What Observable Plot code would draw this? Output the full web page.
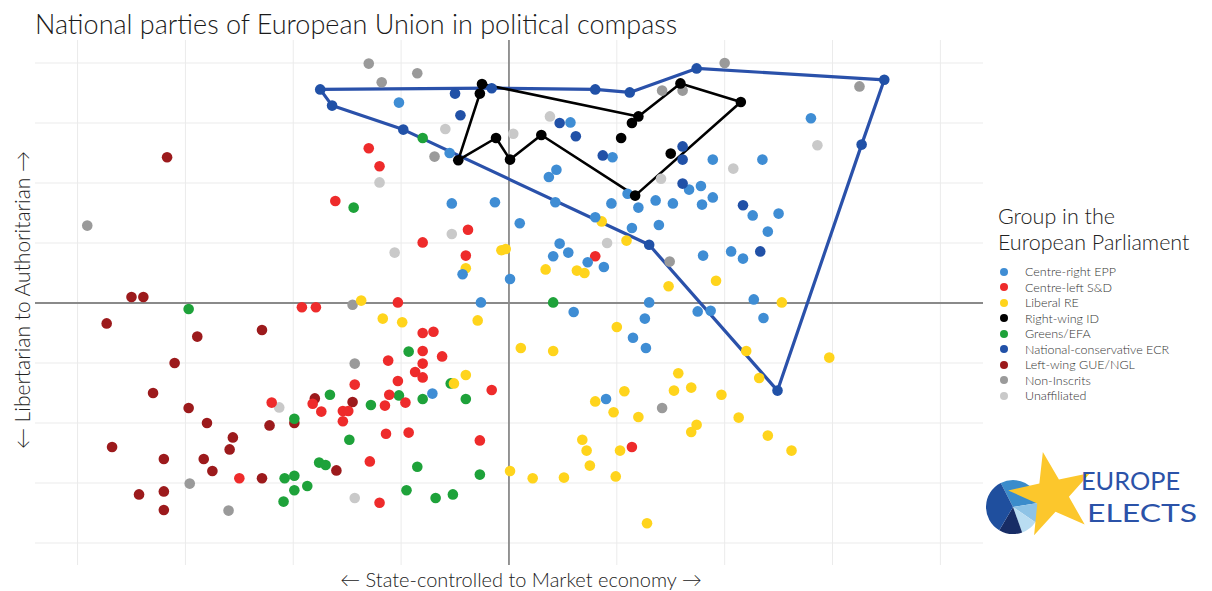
<!DOCTYPE html>
<html>
<head>
<meta charset="utf-8">
<script src="https://cdn.jsdelivr.net/npm/d3@7"></script>
<script src="https://cdn.jsdelivr.net/npm/@observablehq/plot@0.6"></script>
<style>
  html, body { margin: 0; padding: 0; background: #fff; }
  #wrap { position: relative; width: 1212px; height: 591px; overflow: hidden; font-family: Lato, "DejaVu Sans", sans-serif; font-weight: 300; color: #222; }
  #chart { position: absolute; left: 0; top: 0; }
  .title { position: absolute; left: 35px; top: 7px; font-size: 27px; white-space: nowrap; color: #1a1a1a; }
  .xlab { position: absolute; left: 521px; top: 567px; transform: translateX(-50%); font-size: 20px; white-space: nowrap; }
  .ylab { position: absolute; left: 21px; top: 300px; transform: translate(-50%, -50%) rotate(-90deg); font-size: 21px; white-space: nowrap; }
  .legtitle { position: absolute; left: 998px; top: 203px; font-size: 21.5px; line-height: 26px; white-space: nowrap; }
  .legitems { position: absolute; left: 1000px; top: 264px; }
  .legitem { height: 15.5px; line-height: 15.5px; font-size: 12.5px; white-space: nowrap; color: #333; display: flex; align-items: center; }
  .legitem span.sw { display: inline-block; width: 8px; height: 8px; border-radius: 50%; margin-right: 17px; }
  .logo { position: absolute; left: 980px; top: 440px; }
  .logo text { font-family: Lato, sans-serif; font-weight: 400; fill: #2b52a8; }
</style>
</head>
<body>
<div id="wrap">
  <div id="chart"></div>
  <div class="title">National parties of European Union in political compass</div>
  <div class="ylab">← Libertarian to Authoritarian →</div>
  <div class="xlab">← State-controlled to Market economy →</div>
  <div class="legtitle">Group in the<br>European Parliament</div>
  <div class="legitems" id="legend"></div>
  <svg class="logo" width="232" height="100" viewBox="0 0 232 100">
    <g id="pie" transform="translate(33,67)"></g>
    <polygon id="star" fill="#fcc72c"></polygon>
    <text x="101" y="50" font-size="25" textLength="99" lengthAdjust="spacingAndGlyphs">EUROPE</text>
    <text x="107" y="82" font-size="25" textLength="110" lengthAdjust="spacingAndGlyphs">ELECTS</text>
  </svg>
</div>
<script>
// ---- Data: [economic (state→market), social (libertarian→authoritarian)] ----
const groupNames = ["Centre-right EPP", "Centre-left S&D", "Liberal RE", "Right-wing ID", "Greens/EFA",
  "National-conservative ECR", "Left-wing GUE/NGL", "Non-Inscrits", "Unaffiliated"];
const legendLabels = ["Centre-right EPP", "Centre-left S&D", "Liberal RE", "Right-wing ID", "Greens/EFA",
  "National-conservative ECR", "Left-wing GUE/NGL", "Non-Inscrits", "Unaffiliated"];
const groupColors = ["#3f8dd4", "#ee2b2b", "#ffd41c", "#000000", "#1ea23a", "#2151a7", "#9c1a1c", "#9a9a9a", "#c9c9c9"];

const epp = [
  [-1.02,3.34],[-0.55,2.50],[-0.53,1.66],[-0.13,1.68],[-0.43,0.48],[0.01,0.40],[-0.26,0.01],
  [0.57,3.01],[0.96,2.43],[1.89,2.39],[0.44,2.22],[0.37,2.10],[1.67,1.89],[1.78,1.95],[1.10,1.82],
  [0.43,1.68],[0.95,1.66],[1.20,1.59],[1.36,1.71],[1.52,1.66],[1.79,1.64],[1.89,1.76],[2.26,1.46],
  [0.10,1.33],[0.80,1.43],[1.14,1.25],[1.39,1.30],[0.47,0.99],[0.55,0.84],[0.41,0.78],[0.73,0.68],
  [0.88,0.60],[1.80,0.79],[2.06,0.86],[2.17,0.74],[1.30,0.01],[2.27,0.06],[2.80,3.08],[2.35,2.39],
  [2.50,1.49],[2.40,1.19],[0.60,-0.15],[1.75,-0.14],[1.87,-0.13],[1.26,-0.26],[1.15,-0.58],[1.27,-0.75],
  [0.90,-1.60],[2.36,-0.25],[-0.71,-1.51]
];
const sd = [
  [-1.30,2.58],[-1.20,2.28],[-1.61,1.70],[-0.38,1.22],[-0.80,1.01],[-0.40,0.79],[-1.03,0.01],[-1.92,-0.07],[-1.79,-0.07],[0.80,0.78],
  [-2.20,-1.66],[-2.50,-2.92],[-0.80,-0.50],[-0.70,-0.48],[-0.80,-0.80],[-0.62,-0.89],[-1.12,-0.96],[-0.80,-1.01],[-0.87,-1.15],[-0.80,-1.24],
  [-1.03,-1.30],[-1.43,-1.36],[-0.16,-1.45],[-1.11,-1.53],[-1.82,-1.68],[-1.15,-1.71],[-0.96,-1.66],[-1.74,-1.81],[-1.54,-1.80],[-1.49,-1.80],
  [-1.54,-1.97],[-1.14,-2.18],[-0.93,-2.16],[-0.27,-2.29],[-1.29,-2.64],[-1.20,-3.33],[1.14,-2.40]
];
const re = [
  [-0.40,0.58],[-0.07,0.88],[-0.03,0.90],[-1.37,0.04],[0.86,1.36],[1.09,1.04],[0.34,0.56],[0.63,0.54],[0.70,0.50],[1.48,0.28],[1.92,0.37],[2.53,0.01],
  [-1.17,-0.26],[-0.99,-0.32],[-0.29,-0.29],[-0.40,-1.20],[-0.51,-1.34],[0.01,-2.80],[1.00,-0.40],[0.11,-0.75],[0.41,-0.80],[2.20,-0.80],
  [1.57,-1.17],[1.53,-1.46],[1.69,-1.41],[1.07,-1.47],[1.97,-1.53],[0.80,-1.64],[0.97,-1.82],[1.20,-1.90],[2.13,-1.91],[1.74,-2.03],[1.69,-2.15],
  [0.68,-2.28],[0.72,-2.46],[1.03,-2.46],[0.75,-2.71],[0.22,-2.92],[0.51,-2.91],[0.99,-2.89],[1.28,-3.67],[2.97,-0.91],[2.32,-1.25],[2.40,-2.21],[2.62,-2.46]
];
// ID: outline vertices in drawing order, then other members
const idOutline = [[-0.25,3.65],[1.20,3.11],[1.59,3.66],[2.15,3.35],[1.17,1.79],[0.30,2.80],[0.01,2.39],[-0.12,2.75],[-0.47,2.38],[-0.27,3.49]];
const idOther = [[1.14,3.00],[1.04,2.75],[1.50,2.49]];
const greens = [
  [-0.80,2.75],[-1.44,1.59],[0.41,0.01],[-2.97,-0.10],[-0.93,-0.81],[-0.54,-1.34],[-1.66,-1.53],[-1.02,-1.54],[-0.80,-1.60],[-0.40,-1.60],[-1.28,-1.70],
  [-1.99,-1.93],[-1.48,-2.28],[-1.76,-2.66],[-1.70,-2.70],[-0.85,-2.73],[-2.08,-2.92],[-1.99,-2.88],[-0.27,-2.86],[-1.87,-3.05],[-1.99,-3.12],[-0.95,-3.12],
  [-2.09,-3.31],[-0.68,-3.25],[-0.52,-3.19]
];
// ECR: outline vertices in drawing order, then other members
const ecrOutline = [[-1.75,3.56],[-0.16,3.58],[0.80,3.56],[1.12,3.51],[1.74,3.91],[3.48,3.72],[3.27,2.64],[2.49,-1.46],[1.30,0.97],[-0.98,2.89],[-1.64,3.29]];
const ecrOther = [[-0.50,3.49],[-0.45,3.13],[0.47,3.00],[0.62,2.78],[0.87,2.46],[1.61,2.61],[1.61,2.39],[1.61,1.99],[2.17,1.63],[2.33,0.86]];
const gue = [
  [-3.17,2.43],[-3.50,0.10],[-3.39,0.10],[-3.73,-0.34],[-2.89,-0.56],[-2.29,-0.45],[-3.10,-1.00],[-3.30,-1.50],[-2.97,-1.75],[-2.80,-2.00],[-2.22,-2.04],
  [-2.56,-2.24],[-3.68,-2.40],[-2.59,-2.44],[-3.20,-2.60],[-2.83,-2.60],[-2.75,-2.80],[-2.29,-2.92],[-3.43,-3.19],[-3.20,-3.14],[-3.20,-3.45],
  [-1.80,-1.59],[-1.45,-1.65],[-1.99,-2.00],[-1.60,-2.79]
];
const ni = [
  [-3.91,1.29],[-1.30,3.99],[-0.85,3.83],[-1.18,3.68],[-0.69,2.44],[-1.45,-0.03],[-2.96,-3.01],[-2.60,-3.46],[-1.43,-1.01],
  [2.00,4.00],[1.42,3.54],[1.61,3.54],[1.49,0.69],[3.25,3.61],[1.42,-1.75]
];
const unaffiliated = [
  [-0.59,2.90],[-1.20,2.01],[-0.53,1.15],[-1.06,0.84],[0.04,2.82],[0.38,3.11],[2.08,2.24],[1.41,2.07],[0.91,1.00],[2.86,2.63],[-2.13,-1.74],[-1.43,-3.25]
];
const gridTicks = [-4, -3, -2, -1, 1, 2, 3, 4];

// logo pie shares (decorative)
const logoShares = [0.30, 0.12, 0.10, 0.14, 0.34];
const logoColors = ["#3b8ccb", "#8ec3e6", "#b9ddf2", "#182d66", "#1f4f9e"];

// ---- Build ----
const memberLists = [epp, sd, re, idOutline.concat(idOther), greens, ecrOutline.concat(ecrOther), gue, ni, unaffiliated];
const points = [];
memberLists.forEach((list, i) => list.forEach(([x, y]) => points.push({x, y, group: groupNames[i]})));
const drawOrder = ["Unaffiliated", "Non-Inscrits", "Left-wing GUE/NGL", "Greens/EFA", "Centre-left S&D", "Liberal RE", "Centre-right EPP", "National-conservative ECR", "Right-wing ID"];
points.sort((a, b) => drawOrder.indexOf(a.group) - drawOrder.indexOf(b.group));
const toRows = arr => arr.concat([arr[0]]).map(([x, y]) => ({x, y}));

const chart = Plot.plot({
  width: 1212,
  height: 591,
  marginLeft: 35,
  marginRight: 229,
  marginTop: 40,
  marginBottom: 26,
  x: {domain: [-4.39, 4.4], axis: null},
  y: {domain: [-4.375, 4.375], axis: null},
  color: {domain: groupNames, range: groupColors},
  style: {background: "transparent"},
  marks: [
    Plot.ruleX(gridTicks, {stroke: "#ebebeb", strokeWidth: 1}),
    Plot.ruleY(gridTicks, {stroke: "#ebebeb", strokeWidth: 1}),
    Plot.ruleX([0], {stroke: "#8a8a8a", strokeWidth: 1.8}),
    Plot.ruleY([0], {stroke: "#8a8a8a", strokeWidth: 1.8}),
    Plot.line(toRows(ecrOutline), {x: "x", y: "y", stroke: "#2a51aa", strokeWidth: 3.2}),
    Plot.line(toRows(idOutline), {x: "x", y: "y", stroke: "#000", strokeWidth: 2.6}),
    Plot.dot(points, {x: "x", y: "y", fill: "group", r: 5.3})
  ]
});
document.getElementById("chart").appendChild(chart);

// legend
const leg = document.getElementById("legend");
groupNames.forEach((g, i) => {
  const d = document.createElement("div");
  d.className = "legitem";
  d.innerHTML = `<span class="sw" style="background:${groupColors[i]}"></span>`;
  d.appendChild(document.createTextNode(legendLabels[i]));
  leg.appendChild(d);
});

// logo pie + star
const pieG = d3.select("#pie");
const arcs = d3.pie().sort(null).startAngle(-Math.PI * 0.15)(logoShares);
pieG.selectAll("path").data(arcs).join("path")
  .attr("d", d3.arc().innerRadius(0).outerRadius(27))
  .attr("fill", (d, i) => logoColors[i]);
const starPts = [];
const cx = 72, cy = 55, R = 44, r = 17, rot = -12 * Math.PI / 180;
for (let k = 0; k < 10; k++) {
  const rad = k % 2 === 0 ? R : r;
  const a = -Math.PI / 2 + k * Math.PI / 5 + rot;
  starPts.push([cx + rad * Math.cos(a), cy + rad * Math.sin(a)]);
}
d3.select("#star").attr("points", starPts.map(p => p.join(",")).join(" "));
</script>
</body>
</html>
